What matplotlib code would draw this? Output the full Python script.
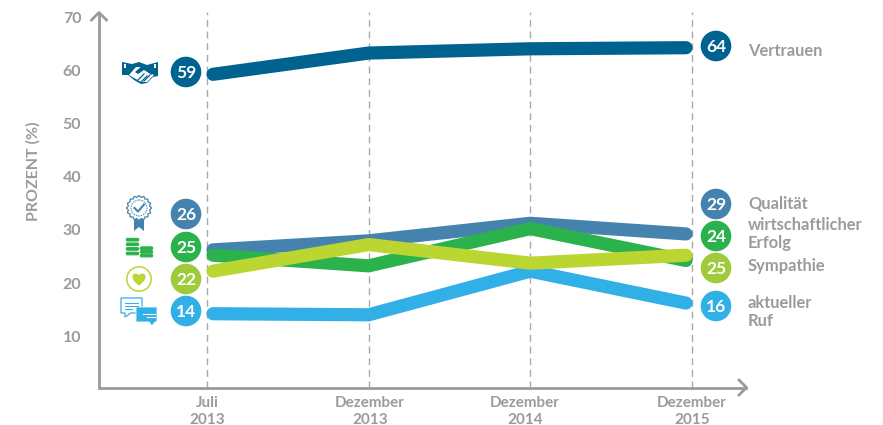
import numpy as np
import matplotlib
matplotlib.use("Agg")
import matplotlib.pyplot as plt
from matplotlib.patches import Circle, Polygon, Rectangle, FancyBboxPatch, PathPatch
from matplotlib.path import Path

plt.rcParams['font.family'] = ['Lato', 'DejaVu Sans']

# Survey values per date
periods = ["Juli\n2013", "Dezember\n2013", "Dezember\n2014", "Dezember\n2015"]
vertrauen = [59, 63, 63.8, 64]
qualitaet = [26, 27.7, 31, 29]
erfolg = [25, 23, 30, 24]
sympathie = [22, 27, 23.5, 25]
ruf = [14, 13.8, 22, 16]
y_ticks = [10, 20, 30, 40, 50, 60, 70]

GREY = "#9b9b9d"
DASH = "#a9a9ab"
C_V, C_Q, C_E, C_S, C_R = "#00628f", "#4583ae", "#2bb24c", "#bbd531", "#30b0e6"
C_S_DOT = "#9fcb3b"

W, H = 883, 425
fig = plt.figure(figsize=(W / 100, H / 100), dpi=100, facecolor="white")

# Data axes spanning the whole canvas; the scales put the dates and percentages in place
ax = fig.add_axes([0, 0, 1, 1])
x_step = (692 - 207) / 3
y_step = 5.32
y_zero = 388.2
ax.set_xlim(-207 / x_step, (W - 207) / x_step)
ax.set_ylim(-(H - y_zero) / y_step, y_zero / y_step)
ax.axis("off")

# Overlay in canvas pixels for axis arrows, badges and icons
ov = fig.add_axes([0, 0, 1, 1], zorder=5)
ov.set_xlim(0, W)
ov.set_ylim(H, 0)
ov.axis("off")
ov.patch.set_alpha(0)

# Dashed date guides
xs = np.arange(len(periods))
top = (y_zero - 12) / y_step
for x in xs:
    ax.plot([x, x], [0, top], color=DASH, lw=1.0, dashes=(5, 3.4), zorder=1)

# Series lines, rounded ends stop just inside the guides
inset = 6 / x_step
line_x = [xs[0] + inset, xs[1], xs[2], xs[3] - inset]
for vals, col, z in [(qualitaet, C_Q, 2), (erfolg, C_E, 3), (ruf, C_R, 4),
                     (sympathie, C_S, 5), (vertrauen, C_V, 6)]:
    ax.plot(line_x, vals, color=col, lw=9.5, solid_capstyle="round",
            solid_joinstyle="miter", zorder=z)

# Axis lines with open arrow heads
ov.plot([99, 99, 746], [13, 387.5, 387.5], color=GREY, lw=2, solid_joinstyle="miter")
ov.plot([91.5, 99, 106.5], [20, 12.5, 20], color=GREY, lw=2)
ov.plot([739, 746.5, 739], [380, 387.5, 395], color=GREY, lw=2)

# Tick labels
for t in y_ticks:
    ov.text(72, y_zero - t * y_step + 2.8, str(t), color=GREY, fontsize=11.5,
            fontweight="bold", ha="center", va="center")
for lab, px in zip(periods, [207, 370, 525, 692]):
    ov.text(px, 411.5, lab, color=GREY, fontsize=11, fontweight="bold", ha="center",
            va="center", linespacing=1.2)
ov.text(33, 171, "PROZENT (%)", color=GREY, fontsize=11.5, fontweight="bold",
        rotation=90, ha="center", va="center")

# Numbered badges at both ends
left_badges = [(vertrauen, C_V, 72), (qualitaet, C_Q, 214), (erfolg, C_E, 247),
               (sympathie, C_S_DOT, 279), (ruf, C_R, 311)]
right_badges = [(vertrauen, C_V, 46), (qualitaet, C_Q, 204), (erfolg, C_E, 236),
                (sympathie, C_S_DOT, 268), (ruf, C_R, 306)]
for badges, bx, idx in [(left_badges, 186, 0), (right_badges, 716, -1)]:
    for vals, col, by in badges:
        ov.add_patch(Circle((bx, by), 15.3, fc=col, ec="none"))
        ov.text(bx, by + 0.8, f"{vals[idx]:.0f}", color="white", fontsize=12.5,
                fontweight="bold", ha="center", va="center")

# Series names
names = [("Vertrauen", 51), ("Qualität", 203), ("wirtschaftlicher\nErfolg", 234),
         ("Sympathie", 266), ("aktueller\nRuf", 312)]
for name, ny in names:
    ov.text(748, ny, name, color=GREY, fontsize=11.9, fontweight="bold", ha="left",
            va="center", linespacing=1.08)


# Handshake icon
def handshake(c):
    ov.add_patch(Polygon([(122, 62), (132, 64), (139, 62), (147, 65), (158, 62),
                          (158, 76), (153, 77), (147, 83), (141, 84), (134, 80),
                          (128, 75), (122, 75)], fc=c, ec="none"))
    ov.add_patch(Polygon([(129, 75), (136, 67), (141, 67), (154, 75), (147, 82),
                          (141, 82), (134, 78)], fc="white", ec="none"))
    ov.add_patch(Polygon([(135, 72), (143, 65), (148, 66), (154, 72), (152, 75),
                          (144, 70), (138, 74)], fc=c, ec="none"))
    for a, b in [((141, 82), (147, 76)), ((144, 81), (150, 75)), ((138, 80), (144, 74))]:
        ov.plot([a[0], b[0]], [a[1], b[1]], color=c, lw=0.9)
    ov.add_patch(Rectangle((124, 64), 2, 3.5, fc="white", ec="none"))
    ov.add_patch(Rectangle((154, 64), 2, 3.5, fc="white", ec="none"))


# Rosette with check mark
def rosette(c):
    ang = np.linspace(0, 2 * np.pi, 33)[:-1]
    rad = np.where(np.arange(32) % 2 == 0, 12.6, 10.8)
    pts = np.c_[139 + rad * np.cos(ang), 208 + rad * np.sin(ang)]
    ov.add_patch(Polygon([(134, 219), (144, 219), (144, 231), (139, 227), (134, 231)],
                         fc=c, ec="none"))
    ov.add_patch(Polygon(pts, closed=True, fc="white", ec=c, lw=0.9))
    ov.add_patch(Circle((139, 208), 8, fc="none", ec=c, lw=0.7, ls=(0, (1.5, 1))))
    ov.plot([134.5, 138, 144], [208, 211.5, 204.5], color=c, lw=1.5)


# Stacks of coins
def coins(c):
    for cx, ys in [(132.5, [238, 242.6, 247.2, 251.8]), (146.5, [246.5, 250.2, 253.9])]:
        for cy in ys:
            ov.add_patch(FancyBboxPatch((cx - 6.2, cy + 0.4), 12.4, 2.6,
                                        boxstyle="round,pad=0,rounding_size=1.3",
                                        fc=c, ec=c, lw=0.8))


# Heart in a ring
def heart(c):
    ov.add_patch(Circle((139, 279), 12.2, fc="white", ec=c, lw=1.1))
    verts = [(139, 285.5), (134, 282), (132.5, 279), (132.5, 276.5),
             (132.5, 273), (137.5, 272.5), (139, 275.5),
             (140.5, 272.5), (145.5, 273), (145.5, 276.5),
             (145.5, 279), (144, 282), (139, 285.5)]
    codes = [Path.MOVETO] + [Path.CURVE4] * 12
    ov.add_patch(PathPatch(Path(verts, codes), fc=c, ec="none"))


# Two speech bubbles
def bubbles(c):
    ov.add_patch(Polygon([(121, 298), (142, 298), (142, 313), (131, 313), (125, 317),
                          (125, 313), (121, 313)], fc="white", ec=c, lw=0.9))
    for y0, x1 in [(302.5, 138), (305.5, 138), (308.5, 132)]:
        ov.plot([125, x1], [y0, y0], color=c, lw=0.8)
    ov.add_patch(Polygon([(136, 307), (157, 307), (157, 322), (155, 322), (152, 326),
                          (149, 322), (136, 322)], fc=c, ec="white", lw=0.6))
    for y0, x0 in [(314, 143), (317, 147)]:
        ov.plot([x0, 155], [y0, y0], color="white", lw=0.8)


handshake(C_V)
rosette(C_Q)
coins(C_E)
heart(C_S)
bubbles(C_R)

fig.savefig("out.png", dpi=100, facecolor="white")
